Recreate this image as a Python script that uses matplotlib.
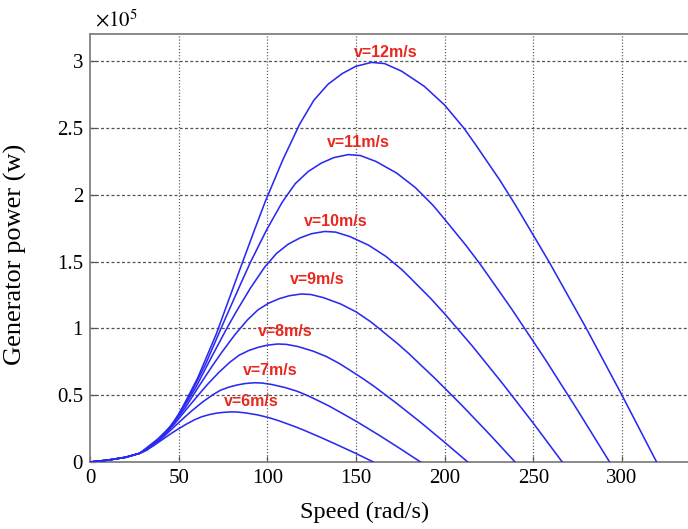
import matplotlib
matplotlib.use("Agg")
import matplotlib.pyplot as plt

plt.rcParams['font.family'] = ['Liberation Serif', 'DejaVu Serif']
plt.rcParams['mathtext.fontset'] = 'stix'

# Power values are in units of 1e5 W
low_x = [0, 10, 20, 28]
low_y = [0, 0.014, 0.035, 0.065]

v12_x = [38.3, 47.9, 60.7, 71.2, 83.1, 92.7, 98.7, 108.6, 118.2, 126.2, 134.2, 142.2, 149.8, 158.8, 166.1, 175.7, 188.5, 200.0, 210.9, 217.3, 231.0, 239.6, 249.8, 259.1, 279.9, 300.0, 319.5]
v12_y = [0.173, 0.299, 0.628, 0.957, 1.390, 1.734, 1.944, 2.257, 2.527, 2.706, 2.826, 2.906, 2.960, 2.990, 2.981, 2.924, 2.811, 2.670, 2.497, 2.377, 2.111, 1.929, 1.701, 1.492, 0.999, 0.499, 0]

v11_x = [35.2, 44.0, 55.7, 65.3, 76.2, 85.0, 90.5, 99.6, 108.4, 115.7, 123.1, 130.4, 137.4, 145.6, 152.4, 161.2, 172.9, 183.4, 193.4, 199.2, 211.8, 219.8, 229.1, 237.6, 256.7, 275.1, 293.0]
v11_y = [0.133, 0.230, 0.483, 0.736, 1.070, 1.334, 1.495, 1.737, 1.944, 2.082, 2.174, 2.236, 2.277, 2.300, 2.293, 2.249, 2.162, 2.054, 1.921, 1.829, 1.624, 1.484, 1.309, 1.148, 0.768, 0.384, 0]

v10_x = [32.0, 39.9, 50.6, 59.4, 69.2, 77.2, 82.3, 90.5, 98.5, 105.2, 111.8, 118.5, 124.9, 132.4, 138.5, 146.5, 157.1, 166.7, 175.8, 181.1, 192.5, 199.7, 208.2, 216.0, 233.3, 250.1, 266.3]
v10_y = [0.100, 0.173, 0.362, 0.552, 0.802, 1.001, 1.121, 1.302, 1.458, 1.561, 1.630, 1.677, 1.708, 1.725, 1.720, 1.687, 1.622, 1.540, 1.440, 1.371, 1.218, 1.113, 0.982, 0.861, 0.576, 0.288, 0]

v9_x = [36.0, 45.5, 53.5, 62.3, 69.5, 74.1, 81.5, 88.7, 94.7, 100.7, 106.7, 112.4, 119.1, 124.6, 131.8, 141.4, 150.1, 158.2, 163.0, 173.3, 179.8, 187.4, 194.4, 210.0, 225.1, 239.7]
v9_y = [0.126, 0.264, 0.402, 0.585, 0.729, 0.817, 0.949, 1.062, 1.138, 1.188, 1.222, 1.244, 1.257, 1.253, 1.229, 1.182, 1.123, 1.050, 0.999, 0.887, 0.811, 0.715, 0.627, 0.420, 0.210, 0]

v8_x = [32.0, 40.5, 47.5, 55.4, 61.8, 65.8, 72.4, 78.8, 84.1, 89.5, 94.8, 99.9, 105.9, 110.8, 117.2, 125.7, 133.3, 140.6, 144.8, 154.0, 159.8, 166.6, 172.7, 186.6, 200.0, 213.0]
v8_y = [0.088, 0.185, 0.283, 0.411, 0.512, 0.574, 0.667, 0.746, 0.799, 0.834, 0.858, 0.874, 0.883, 0.880, 0.864, 0.830, 0.789, 0.737, 0.702, 0.623, 0.570, 0.502, 0.441, 0.295, 0.147, 0]

v7_x = [35.4, 41.6, 48.5, 54.1, 57.6, 63.4, 69.0, 73.6, 78.3, 82.9, 87.4, 92.6, 96.9, 102.5, 110.0, 116.7, 123.0, 126.8, 134.8, 139.8, 145.8, 151.2, 163.3, 175.0, 186.4]
v7_y = [0.125, 0.190, 0.276, 0.344, 0.385, 0.448, 0.501, 0.537, 0.560, 0.576, 0.587, 0.593, 0.591, 0.580, 0.557, 0.530, 0.495, 0.471, 0.419, 0.382, 0.337, 0.296, 0.198, 0.099, 0]

v6_x = [30.4, 35.6, 41.5, 46.3, 49.4, 54.3, 59.1, 63.1, 67.1, 71.1, 74.9, 79.4, 83.1, 87.9, 94.3, 100.0, 105.5, 108.7, 115.5, 119.9, 125.0, 129.6, 140.0, 150.1, 159.8]
v6_y = [0.079, 0.120, 0.174, 0.218, 0.244, 0.283, 0.317, 0.339, 0.354, 0.365, 0.371, 0.375, 0.374, 0.367, 0.353, 0.335, 0.313, 0.298, 0.265, 0.242, 0.213, 0.187, 0.125, 0.063, 0]

labels = ["v=12m/s", "v=11m/s", "v=10m/s", "v=9m/s", "v=8m/s", "v=7m/s", "v=6m/s"]
label_x = [166.9, 151.1, 138.7, 128.0, 110.0, 101.5, 90.8]
label_y = [3.067, 2.394, 1.803, 1.362, 0.973, 0.681, 0.449]

x_ticks = [0, 50, 100, 150, 200, 250, 300]
y_ticks = [0, 0.5, 1, 1.5, 2, 2.5, 3]
y_ticklabels = ["0", "0.5", "1", "1.5", "2", "2.5", "3"]

fig = plt.figure(figsize=(6.88, 5.29), dpi=100)
ax = fig.add_axes([0.1308, 0.12665, 0.8764, 0.8085])
ax.set_xlim(0, 340)
ax.set_ylim(0, 3.2)

series = [(v12_x, v12_y), (v11_x, v11_y), (v10_x, v10_y), (v9_x, v9_y),
          (v8_x, v8_y), (v7_x, v7_y), (v6_x, v6_y)]
for sx, sy in series:
    ax.plot(low_x + sx, low_y + sy, color='#2a2af0', lw=1.15, zorder=3,
            solid_joinstyle='round')

for t, lx, ly in zip(labels, label_x, label_y):
    ax.text(lx, ly, t, color='#e8281e', fontsize=11.5, fontweight='bold',
            family=['Liberation Sans', 'DejaVu Sans'], ha='center', va='center', zorder=4)

# grid: MATLAB-like dotted
for xt in x_ticks[1:]:
    ax.axvline(xt, color='#555555', lw=0.9, ls=(0, (0.9, 1.6)), zorder=1)
for yt in y_ticks[1:]:
    ax.axhline(yt, color='#555555', lw=0.9, ls=(0, (2.4, 1.8)), zorder=1)

ax.set_xticks(x_ticks)
ax.set_xticklabels([str(t) for t in x_ticks])
ax.set_yticks(y_ticks)
ax.set_yticklabels(y_ticklabels)
ax.tick_params(direction='in', length=4, width=0.9, colors='#555555',
               labelcolor='black', labelsize=15, pad=5)
for s in ['left', 'bottom', 'top']:
    ax.spines[s].set_color('#808080')
    ax.spines[s].set_linewidth(1.3)
ax.spines['right'].set_visible(False)

ax.set_xlabel('Speed (rad/s)', fontsize=17.5)
ax.xaxis.set_label_coords(0.456, -0.094)
ax.set_ylabel('Generator power (w)', fontsize=19)
ax.yaxis.set_label_coords(-0.104, 0.486)

fig.text(95 / 688, 1 - 26 / 529, r'$\times10^{5}$', fontsize=15, ha='left', va='baseline')

fig.savefig('out.png', dpi=100)
